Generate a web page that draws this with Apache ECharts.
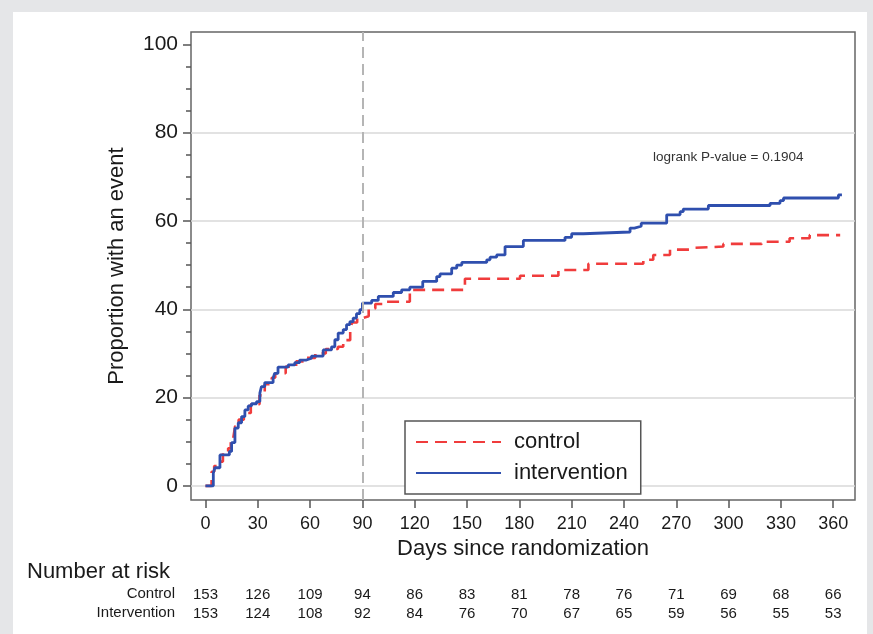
<!DOCTYPE html>
<html><head><meta charset="utf-8">
<script src="https://cdn.jsdelivr.net/npm/echarts@6/dist/echarts.min.js"></script>
<style>html,body{margin:0;padding:0;background:#e5e6e8}#c{width:873px;height:634px}</style>
</head><body><div id="c"></div>
<script>
const xTicks = [0, 30, 60, 90, 120, 150, 180, 210, 240, 270, 300, 330, 360];
const yMajor = [0, 20, 40, 60, 80, 100];
const yMinor = [5, 10, 15, 25, 30, 35, 45, 50, 55, 65, 70, 75, 85, 90, 95];
const yGrid = [0, 20, 40, 60, 80];
const controlAtRisk = [153, 126, 109, 94, 86, 83, 81, 78, 76, 71, 69, 68, 66];
const interventionAtRisk = [153, 124, 108, 92, 84, 76, 70, 67, 65, 59, 56, 55, 53];
const landmarkDay = 90;
const pValueText = 'logrank P-value = 0.1904';

const controlDays = [0, 3.5, 5, 7, 10, 13, 14.5, 16, 17, 19, 22, 26, 31, 34, 38, 40, 46, 52, 58, 63, 69, 76, 79, 83, 84, 87, 90, 93.6, 97.4, 103.2, 117.2, 148.8, 180.4, 202.4, 219.6, 251.1, 256.8, 266.4, 277.8, 279.8, 297, 319, 335, 346.5, 364];
const controlPct = [0, 3.2, 4.5, 5.5, 7.7, 8.5, 10, 11, 13.5, 15, 16.5, 18.5, 20.5, 23, 24.5, 25.5, 27, 28.2, 29, 30, 31, 31.5, 33, 35, 37, 38, 38.4, 40.2, 41.2, 41.7, 44.4, 46.9, 47.6, 48.9, 50.3, 51.2, 52.3, 53.5, 53.9, 54.2, 54.8, 55.3, 56.1, 56.8, 56.8];

const interventionDays = [0, 4.5, 5.4, 8.3, 13.7, 15, 16.9, 18.8, 20.7, 22.6, 24.5, 26.4, 29.3, 31.2, 32.1, 34, 38.8, 39.7, 41.6, 47.4, 51.2, 54, 57.9, 60.8, 67.5, 72.3, 74.2, 76.1, 79, 80.9, 82.8, 84.7, 86.6, 88.5, 90, 95.3, 99.1, 107.7, 112.5, 117.2, 124.6, 132.6, 134.5, 141.2, 144.1, 147, 161.3, 163.2, 167, 171.8, 182.3, 206.2, 210, 216.7, 243.5, 246, 249.9, 264.5, 272.2, 274, 288.4, 323.8, 329.5, 331.5, 363, 365];
const interventionPct = [0, 2.9, 4.1, 7.0, 7.8, 9.8, 13.1, 14.3, 15.7, 17.2, 18.1, 18.6, 19.1, 21.0, 22.5, 23.4, 24.4, 25.5, 26.9, 27.4, 27.9, 28.5, 28.9, 29.4, 30.8, 31.5, 33.1, 34.6, 35.4, 36.5, 37.2, 38.0, 39.0, 39.9, 41.4, 42.0, 42.9, 43.8, 44.4, 45.0, 46.3, 47.4, 48.0, 49.3, 50.0, 50.6, 51.2, 51.8, 52.3, 54.2, 55.6, 56.3, 57.1, 57.5, 58.4, 58.8, 59.5, 61.4, 62.1, 62.7, 63.5, 64.0, 64.6, 65.2, 65.9, 65.9];

const FONT = '"Liberation Sans", Arial, sans-serif';
const TXT = '#1a1a1a';
const X_MIN = -8.3, X_MAX = 372.5, Y_MIN = -3.2, Y_MAX = 102.8;

const zip = (a, b) => a.map((v, i) => [v, b[i]]);

const chart = echarts.init(document.getElementById('c'), null, {renderer: 'canvas'});
const baseX = {type: 'value', min: X_MIN, max: X_MAX, gridIndex: 0};
const riskAxis = (arr, off) => Object.assign({}, baseX, {
  position: 'bottom', offset: off,
  axisLine: {show: false, onZero: false}, axisTick: {show: false}, splitLine: {show: false},
  axisLabel: {customValues: xTicks, margin: 7, fontFamily: FONT, fontSize: 15, color: TXT,
    formatter: v => { const i = xTicks.indexOf(Math.round(v)); return i >= 0 ? String(arr[i]) : ''; }}
});
const baseY = {type: 'value', min: Y_MIN, max: Y_MAX, position: 'left'};
chart.setOption({
  animation: false,
  backgroundColor: '#e5e6e8',
  textStyle: {fontFamily: FONT},
  graphic: [
    {type: 'rect', z: -10, shape: {x: 13, y: 12, width: 854, height: 622}, style: {fill: '#ffffff'}},
    {type: 'text', left: 27, top: 561, style: {text: 'Number at risk', font: '22px ' + FONT, fill: TXT}},
    {type: 'text', x: 175, y: 594, style: {text: 'Control', font: '15px ' + FONT, fill: TXT, align: 'right', verticalAlign: 'middle'}},
    {type: 'text', x: 175, y: 613, style: {text: 'Intervention', font: '15px ' + FONT, fill: TXT, align: 'right', verticalAlign: 'middle'}},
    {type: 'text', x: 653, y: 157, style: {text: pValueText, font: '13.5px ' + FONT, fill: '#333', verticalAlign: 'middle'}}
  ],
  grid: {left: 191, top: 32, right: 18, bottom: 134, show: true, borderColor: '#666', borderWidth: 1.5, backgroundColor: 'transparent'},
  legend: {
    left: 405, top: 421, orient: 'vertical',
    data: ['control', 'intervention'],
    itemWidth: 85, itemHeight: 14, itemGap: 7,
    padding: [9, 13, 9, 10],
    borderColor: '#555', borderWidth: 1.5, backgroundColor: '#fff',
    itemStyle: {opacity: 0},
    textStyle: {fontFamily: FONT, fontSize: 22, color: TXT, lineHeight: 24, padding: [0, 0, 0, 8]}
  },
  xAxis: [
    Object.assign({}, baseX, {
      name: 'Days since randomization', nameLocation: 'middle', nameGap: 29,
      nameTextStyle: {fontFamily: FONT, fontSize: 22, color: TXT},
      axisLine: {show: false, onZero: false},
      axisTick: {show: true, customValues: xTicks, length: 8, lineStyle: {color: '#555', width: 1.5}},
      axisLabel: {customValues: xTicks, margin: 15, fontFamily: FONT, fontSize: 18, color: TXT},
      splitLine: {show: false}
    }),
    riskAxis(controlAtRisk, 80),
    riskAxis(interventionAtRisk, 99)
  ],
  yAxis: [
    Object.assign({}, baseY, {
      name: 'Proportion with an event', nameLocation: 'middle', nameGap: 63, nameRotate: 90,
      nameTextStyle: {fontFamily: FONT, fontSize: 22, color: TXT},
      axisLine: {show: false, onZero: false},
      axisTick: {show: true, customValues: yMajor, length: 8, lineStyle: {color: '#555', width: 1.5}},
      axisLabel: {customValues: yMajor, margin: 13, fontFamily: FONT, fontSize: 21, color: TXT},
      splitLine: {show: false}}),
    Object.assign({}, baseY, {
      axisLine: {show: false, onZero: false},
      axisTick: {show: true, customValues: yMinor, length: 5, lineStyle: {color: '#555', width: 1.5}},
      axisLabel: {show: false}, splitLine: {show: false}}),
    Object.assign({}, baseY, {
      axisLine: {show: false, onZero: false},
      axisTick: {show: false, customValues: yGrid},
      axisLabel: {show: false},
      splitLine: {show: true, lineStyle: {color: '#d9d9d9', width: 1.5}}})
  ],
  series: [
    {name: 'intervention', type: 'line', step: 'end', symbol: 'none', z: 3,
      data: zip(interventionDays, interventionPct),
      lineStyle: {color: '#2f4fae', width: 2.8}, itemStyle: {color: '#2f4fae'},
      markLine: {silent: true, symbol: 'none', label: {show: false},
        lineStyle: {color: '#b5b5b5', width: 2, type: [11, 6]},
        data: [{xAxis: landmarkDay}]}},
    {name: 'control', type: 'line', step: 'end', symbol: 'none', z: 2,
      data: zip(controlDays, controlPct),
      lineStyle: {color: '#f03c3c', width: 2.6, type: [12, 7]}, itemStyle: {color: '#f03c3c'}}
  ]
});
</script></body></html>
